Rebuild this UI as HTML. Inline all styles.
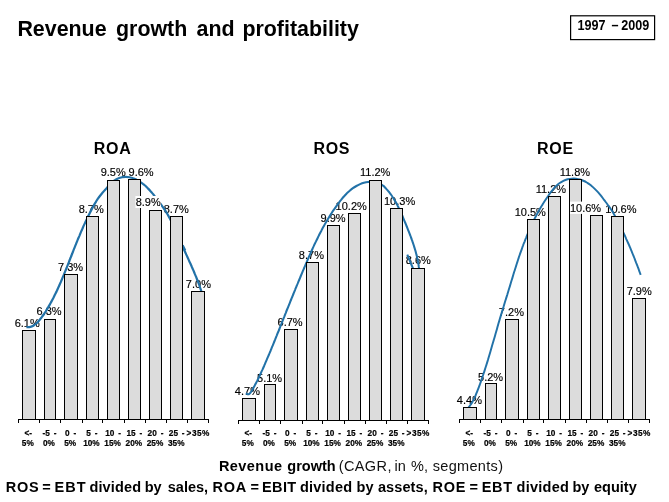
<!DOCTYPE html>
<html lang="en"><head><meta charset="utf-8"><title>Revenue growth and profitability</title>
<style>
html,body{margin:0;padding:0;background:#fff;}
body{width:669px;height:502px;overflow:hidden;}
svg{display:block;font-family:"Liberation Sans", Arial, Helvetica, sans-serif;will-change:transform;}
.t{font-weight:bold;font-size:21.4px;fill:#000;}
.h{font-weight:bold;font-size:16px;fill:#000;text-anchor:middle;letter-spacing:0.7px;}
.v{font-size:11px;fill:#000;text-anchor:middle;stroke:#000;stroke-width:0.15;}
.a{font-weight:bold;font-size:9px;fill:#000;text-anchor:middle;word-spacing:1.7px;stroke:#000;stroke-width:0.2;}
.d{font-weight:bold;font-size:14px;fill:#000;}
.x{font-size:14.5px;fill:#111;}
.xb{font-weight:bold;font-size:14.5px;fill:#000;}
.f{font-weight:bold;font-size:14.5px;fill:#000;}
.bar{fill:#dcdcdc;stroke:#000;stroke-width:1;}
.cv{fill:none;stroke:#2272a8;stroke-linecap:butt;stroke-linejoin:round;}
.ax{stroke:#000;stroke-width:1;fill:none;}
</style></head><body>
<svg width="669" height="502" viewBox="0 0 669 502">
<rect width="669" height="502" fill="#fff"/>
<text class="t" x="17.4" y="36">Revenue</text>
<text class="t" x="116.0" y="36">growth</text>
<text class="t" x="196.6" y="36">and</text>
<text class="t" x="242.4" y="36">profitability</text>
<rect x="570.6" y="15.8" width="84" height="23.8" fill="#fff" stroke="#000" stroke-width="1.2"/>
<text class="d" transform="translate(577.5 30.2) scale(0.9 1)">1997</text>
<text class="d" transform="translate(611.4 30.2) scale(0.9 1)">–</text>
<text class="d" transform="translate(621.2 30.2) scale(0.9 1)">2009</text>
<g>
<text class="h" x="112.6" y="153.8">ROA</text>
<text class="v" x="27.2" y="327">6.1%</text>
<text class="v" x="49.1" y="315">6.3%</text>
<text class="v" x="70.5" y="271">7.3%</text>
<text class="v" x="91.2" y="213">8.7%</text>
<text class="v" x="113.2" y="176">9.5%</text>
<text class="v" x="141.1" y="176">9.6%</text>
<text class="v" x="176.3" y="213">8.7%</text>
<text class="v" x="198.4" y="288">7.0%</text>
<path class="cv" stroke-width="2.20" d="M26.4 327.1C27.1 327.1 29.2 327.2 30.4 326.9C31.6 326.7 32.7 326.1 33.7 325.5C34.7 324.9 35.7 324.1 36.6 323.3C37.5 322.4 38.3 321.5 39.1 320.5C39.9 319.5 40.7 318.5 41.5 317.5C42.2 316.5 43.0 315.5 43.7 314.5C44.4 313.4 45.1 312.4 45.8 311.3C46.4 310.3 47.1 309.2 47.7 308.1C48.4 307.1 49.0 306.0 49.6 304.9C50.2 303.8 50.8 302.7 51.4 301.6C52.0 300.5 52.6 299.4 53.2 298.3C53.7 297.2 54.3 296.1 54.8 294.9C55.4 293.8 55.9 292.7 56.5 291.6C57.0 290.4 57.5 289.3 58.0 288.2C58.6 287.0 59.1 285.9 59.6 284.8C60.1 283.6 60.6 282.5 61.1 281.3C61.6 280.2 62.1 279.0 62.5 277.9C63.0 276.7 63.5 275.6 64.0 274.4C64.4 273.3 64.9 272.1 65.4 270.9C65.9 269.8 66.3 268.6 66.8 267.5C67.2 266.3 67.7 265.1 68.2 264.0C68.6 262.8 69.1 261.6 69.5 260.5C70.0 259.3 70.4 258.1 70.9 257.0C71.4 255.8 71.8 254.6 72.3 253.5C72.7 252.3 73.2 251.2 73.6 250.0C74.1 248.8 74.6 247.7 75.0 246.5C75.5 245.3 76.0 244.2 76.4 243.0C76.9 241.9 77.4 240.7 77.8 239.5C78.3 238.4 78.8 237.2 79.3 236.1C79.8 234.9 80.2 233.8 80.7 232.6C81.2 231.5 81.7 230.3 82.2 229.2C82.7 228.0 83.2 226.9 83.7 225.7C84.2 224.6 84.8 223.5 85.3 222.3C85.8 221.2 86.3 220.1 86.9 218.9C87.4 217.8 87.9 216.7 88.5 215.6C89.0 214.4 89.6 213.3 90.2 212.2C90.7 211.1 91.3 210.0 91.9 208.9C92.5 207.8 93.1 206.7 93.7 205.6C94.3 204.5 94.9 203.4 95.6 202.4C96.2 201.3 96.9 200.2 97.6 199.2C98.3 198.2 99.0 197.1 99.7 196.2C100.5 195.2 101.3 194.2 102.1 193.2C102.9 192.3 103.8 191.4 104.6 190.4C105.4 189.5 106.3 188.6 107.1 187.6C108.0 186.7 108.8 185.8 109.7 184.8C110.5 183.9 111.4 183.0 112.3 182.2C113.2 181.4 114.2 180.6 115.2 180.0C116.3 179.3 117.4 178.7 118.5 178.3C119.7 177.8 120.9 177.5 122.1 177.2C123.4 177.0 124.7 176.9 125.9 176.9C127.2 176.9 128.4 177.0 129.7 177.3C130.9 177.5 132.1 177.8 133.2 178.2C134.4 178.6 135.6 179.1 136.7 179.7C137.8 180.2 138.8 180.9 139.9 181.6C140.9 182.2 141.9 183.0 142.9 183.8C143.9 184.5 144.8 185.4 145.8 186.2C146.7 187.1 147.6 188.0 148.4 188.9C149.3 189.8 150.1 190.7 151.0 191.7C151.8 192.6 152.6 193.6 153.4 194.5C154.2 195.5 154.9 196.5 155.7 197.4C156.5 198.4 157.2 199.4 157.9 200.4C158.7 201.4 159.4 202.4 160.2 203.4C160.9 204.4 161.6 205.4 162.3 206.4C163.1 207.5 163.8 208.5 164.5 209.5C165.2 210.6 165.9 211.6 166.5 212.7C167.2 213.8 167.8 214.8 168.4 215.9C169.0 217.0 169.6 218.1 170.2 219.2C170.8 220.3 171.3 221.5 171.8 222.6C172.4 223.7 172.9 224.9 173.4 226.0C173.9 227.1 174.4 228.3 174.9 229.4C175.4 230.5 175.9 231.7 176.4 232.8C176.9 234.0 177.4 235.1 177.9 236.3C178.5 237.4 179.0 238.5 179.5 239.7C180.0 240.8 180.5 241.9 181.0 243.1C181.5 244.2 182.1 245.4 182.6 246.5C183.1 247.6 183.6 248.8 184.1 249.9C184.7 251.0 185.2 252.2 185.7 253.3C186.2 254.4 186.7 255.6 187.3 256.7C187.8 257.8 188.3 259.0 188.8 260.1C189.3 261.3 189.8 262.4 190.4 263.5C190.9 264.7 191.4 265.8 191.9 267.0C192.4 268.1 192.9 269.3 193.4 270.4C193.9 271.6 194.4 272.7 194.8 273.9C195.3 275.0 195.8 276.2 196.3 277.3C196.7 278.5 197.2 279.6 197.7 280.8C198.1 282.0 198.5 283.1 199.0 284.3C199.4 285.5 199.8 286.7 200.2 287.9C200.6 289.0 201.0 290.2 201.4 291.4C201.8 292.6 202.3 294.4 202.5 295.0"/>
<path class="cv" stroke-width="2.20" d="M182.6 245.2 L185.2 250.2"/>
<g shape-rendering="crispEdges">
<rect class="bar" x="22.5" y="330.5" width="13" height="89"/>
<rect class="bar" x="44.5" y="319.5" width="11" height="100"/>
<rect class="bar" x="64.5" y="274.5" width="13" height="145"/>
<rect class="bar" x="86.5" y="216.5" width="12" height="203"/>
<rect class="bar" x="107.5" y="180.5" width="12" height="239"/>
<rect class="bar" x="128.5" y="179.5" width="12" height="240"/>
<rect class="bar" x="149.5" y="210.5" width="12" height="209"/>
<rect class="bar" x="170.5" y="216.5" width="12" height="203"/>
<rect class="bar" x="191.5" y="291.5" width="13" height="128"/>
<path class="ax" d="M18 419.5 H209"/>
<path class="ax" d="M18.5 419 v4M39.5 419 v4M60.5 419 v4M82.5 419 v4M102.5 419 v4M124.5 419 v4M145.5 419 v4M166.5 419 v4M187.5 419 v4M208.5 419 v4"/>
</g>
<text class="a" transform="translate(28.3 436) scale(0.92 1)">&lt;-</text>
<text class="a" transform="translate(27.8 446) scale(0.92 1)">5%</text>
<text class="a" transform="translate(49.5 436) scale(0.92 1)">-5 -</text>
<text class="a" transform="translate(49.0 446) scale(0.92 1)">0%</text>
<text class="a" transform="translate(70.7 436) scale(0.92 1)">0 -</text>
<text class="a" transform="translate(70.2 446) scale(0.92 1)">5%</text>
<text class="a" transform="translate(91.9 436) scale(0.92 1)">5 -</text>
<text class="a" transform="translate(91.4 446) scale(0.92 1)">10%</text>
<text class="a" transform="translate(113.1 436) scale(0.92 1)">10 -</text>
<text class="a" transform="translate(112.6 446) scale(0.92 1)">15%</text>
<text class="a" transform="translate(134.3 436) scale(0.92 1)">15 -</text>
<text class="a" transform="translate(133.8 446) scale(0.92 1)">20%</text>
<text class="a" transform="translate(155.5 436) scale(0.92 1)">20 -</text>
<text class="a" transform="translate(155.0 446) scale(0.92 1)">25%</text>
<text class="a" transform="translate(176.7 436) scale(0.92 1)">25 -</text>
<text class="a" transform="translate(176.2 446) scale(0.92 1)">35%</text>
<text class="a" transform="translate(198.2 436) scale(0.92 1)" style="letter-spacing:0.5px">&gt;35%</text>
<rect x="135.4" y="196.0" width="25.6" height="12.0" fill="#fff"/>
<text class="v" x="148.2" y="206">8.9%</text>
</g>
<g>
<text class="h" x="331.8" y="153.8">ROS</text>
<text class="v" x="247.4" y="395">4.7%</text>
<text class="v" x="269.6" y="382">5.1%</text>
<text class="v" x="290.1" y="326">6.7%</text>
<text class="v" x="311.4" y="259">8.7%</text>
<text class="v" x="333.1" y="222">9.9%</text>
<text class="v" x="351.2" y="210">10.2%</text>
<text class="v" x="375.2" y="176">11.2%</text>
<text class="v" x="399.6" y="205">10.3%</text>
<text class="v" x="418.3" y="264">8.6%</text>
<path class="cv" stroke-width="2.05" d="M245.8 393.3C246.3 393.5 247.8 394.6 248.7 394.3C249.7 394.0 250.5 392.6 251.3 391.5C252.1 390.4 252.8 389.0 253.5 387.8C254.2 386.6 254.8 385.3 255.5 384.1C256.1 382.9 256.7 381.6 257.4 380.4C258.0 379.2 258.6 378.0 259.2 376.7C259.7 375.5 260.3 374.3 260.9 373.0C261.4 371.8 262.0 370.6 262.6 369.4C263.1 368.1 263.6 366.9 264.2 365.7C264.7 364.4 265.3 363.2 265.8 361.9C266.3 360.7 266.9 359.4 267.4 358.2C267.9 357.0 268.5 355.7 269.0 354.5C269.5 353.2 270.0 352.0 270.6 350.7C271.1 349.4 271.6 348.2 272.1 346.9C272.6 345.7 273.2 344.4 273.7 343.1C274.2 341.9 274.7 340.6 275.2 339.4C275.7 338.1 276.2 336.8 276.7 335.6C277.2 334.3 277.7 333.0 278.3 331.8C278.8 330.5 279.3 329.2 279.8 328.0C280.3 326.7 280.8 325.4 281.3 324.2C281.8 322.9 282.3 321.6 282.8 320.4C283.3 319.1 283.8 317.8 284.3 316.6C284.8 315.3 285.3 314.0 285.8 312.8C286.3 311.5 286.8 310.2 287.3 309.0C287.9 307.7 288.4 306.5 288.9 305.2C289.4 303.9 289.9 302.7 290.4 301.4C290.9 300.1 291.4 298.9 291.9 297.6C292.4 296.4 292.9 295.1 293.5 293.8C294.0 292.6 294.5 291.3 295.0 290.1C295.5 288.8 296.0 287.6 296.5 286.3C297.1 285.0 297.6 283.8 298.1 282.5C298.6 281.3 299.1 280.0 299.7 278.8C300.2 277.5 300.7 276.2 301.2 275.0C301.8 273.7 302.3 272.5 302.8 271.2C303.3 270.0 303.9 268.7 304.4 267.5C304.9 266.2 305.5 265.0 306.0 263.7C306.5 262.5 307.1 261.2 307.6 260.0C308.1 258.7 308.7 257.5 309.2 256.2C309.8 255.0 310.3 253.7 310.9 252.5C311.4 251.2 312.0 250.0 312.5 248.8C313.1 247.5 313.7 246.3 314.2 245.0C314.8 243.8 315.4 242.6 316.0 241.4C316.6 240.1 317.2 238.9 317.8 237.7C318.4 236.5 319.0 235.2 319.6 234.0C320.2 232.8 320.8 231.6 321.5 230.4C322.1 229.2 322.7 228.0 323.4 226.8C324.1 225.6 324.7 224.4 325.4 223.3C326.1 222.1 326.8 220.9 327.5 219.7C328.2 218.6 328.9 217.4 329.6 216.2C330.3 215.1 331.0 213.9 331.8 212.8C332.5 211.7 333.3 210.5 334.1 209.4C334.8 208.3 335.6 207.2 336.4 206.1C337.2 205.0 338.0 203.9 338.8 202.8C339.6 201.7 340.4 200.6 341.3 199.6C342.2 198.5 343.0 197.5 343.9 196.5C344.8 195.4 345.7 194.5 346.7 193.5C347.7 192.6 348.7 191.6 349.7 190.8C350.7 189.9 351.8 189.0 352.9 188.2C354.0 187.4 355.2 186.7 356.4 186.0C357.6 185.3 358.8 184.7 360.1 184.1C361.3 183.6 362.6 183.1 363.9 182.7C365.2 182.4 366.6 182.1 367.9 181.9C369.2 181.7 370.6 181.6 372.0 181.6C373.3 181.7 374.7 181.8 375.9 182.1C377.2 182.4 378.5 182.9 379.7 183.5C380.9 184.0 382.0 184.8 383.1 185.7C384.2 186.5 385.1 187.6 386.1 188.6C387.0 189.6 387.9 190.7 388.8 191.7C389.6 192.8 390.5 193.9 391.3 195.0C392.1 196.1 392.8 197.2 393.5 198.4C394.3 199.5 394.9 200.7 395.6 201.9C396.3 203.0 396.9 204.2 397.5 205.4C398.2 206.6 398.8 207.9 399.3 209.1C399.9 210.3 400.5 211.5 401.0 212.8C401.6 214.0 402.1 215.3 402.7 216.5C403.2 217.8 403.7 219.1 404.2 220.3C404.7 221.6 405.3 222.9 405.8 224.1C406.3 225.4 406.8 226.6 407.3 227.9C407.8 229.2 408.3 230.4 408.8 231.7C409.3 233.0 409.8 234.3 410.3 235.5C410.8 236.8 411.2 238.1 411.7 239.4C412.2 240.6 412.6 241.9 413.0 243.2C413.5 244.5 413.9 245.8 414.3 247.1C414.7 248.4 415.1 249.7 415.5 251.0C415.8 252.3 416.2 253.6 416.5 254.9C416.9 256.2 417.2 257.5 417.5 258.9C417.7 260.2 418.0 261.5 418.2 262.9C418.5 264.2 418.7 265.6 418.8 266.9C419.0 268.3 419.2 270.4 419.3 271.0"/>
<path class="cv" stroke-width="2.05" d="M407.3 254.6 L413.4 269.5"/>
<g shape-rendering="crispEdges">
<rect class="bar" x="242.5" y="398.5" width="13" height="22"/>
<rect class="bar" x="264.5" y="384.5" width="11" height="36"/>
<rect class="bar" x="284.5" y="329.5" width="13" height="91"/>
<rect class="bar" x="306.5" y="262.5" width="12" height="158"/>
<rect class="bar" x="327.5" y="225.5" width="12" height="195"/>
<rect class="bar" x="348.5" y="213.5" width="12" height="207"/>
<rect class="bar" x="369.5" y="180.5" width="12" height="240"/>
<rect class="bar" x="390.5" y="208.5" width="12" height="212"/>
<rect class="bar" x="411.5" y="268.5" width="13" height="152"/>
<path class="ax" d="M238 420.5 H429"/>
<path class="ax" d="M238.5 420 v4M259.5 420 v4M280.5 420 v4M302.5 420 v4M322.5 420 v4M344.5 420 v4M365.5 420 v4M386.5 420 v4M407.5 420 v4M428.5 420 v4"/>
</g>
<text class="a" transform="translate(248.3 436) scale(0.92 1)">&lt;-</text>
<text class="a" transform="translate(247.8 446) scale(0.92 1)">5%</text>
<text class="a" transform="translate(269.5 436) scale(0.92 1)">-5 -</text>
<text class="a" transform="translate(269.0 446) scale(0.92 1)">0%</text>
<text class="a" transform="translate(290.7 436) scale(0.92 1)">0 -</text>
<text class="a" transform="translate(290.2 446) scale(0.92 1)">5%</text>
<text class="a" transform="translate(311.9 436) scale(0.92 1)">5 -</text>
<text class="a" transform="translate(311.4 446) scale(0.92 1)">10%</text>
<text class="a" transform="translate(333.1 436) scale(0.92 1)">10 -</text>
<text class="a" transform="translate(332.6 446) scale(0.92 1)">15%</text>
<text class="a" transform="translate(354.3 436) scale(0.92 1)">15 -</text>
<text class="a" transform="translate(353.8 446) scale(0.92 1)">20%</text>
<text class="a" transform="translate(375.5 436) scale(0.92 1)">20 -</text>
<text class="a" transform="translate(375.0 446) scale(0.92 1)">25%</text>
<text class="a" transform="translate(396.7 436) scale(0.92 1)">25 -</text>
<text class="a" transform="translate(396.2 446) scale(0.92 1)">35%</text>
<text class="a" transform="translate(418.2 436) scale(0.92 1)" style="letter-spacing:0.5px">&gt;35%</text>
</g>
<g>
<text class="h" x="555.5" y="153.8">ROE</text>
<text class="v" x="469.4" y="404">4.4%</text>
<text class="v" x="490.6" y="381">5.2%</text>
<text class="v" x="511.4" y="316">7.2%</text>
<text class="v" x="530.3" y="216">10.5%</text>
<text class="v" x="550.9" y="193">11.2%</text>
<text class="v" x="574.9" y="176">11.8%</text>
<text class="v" x="620.9" y="213">10.6%</text>
<text class="v" x="639.2" y="295">7.9%</text>
<path class="cv" stroke-width="1.95" d="M468.6 407.6C469.0 407.0 470.4 405.3 471.1 404.1C471.9 402.9 472.6 401.7 473.2 400.4C473.9 399.2 474.5 397.9 475.1 396.6C475.6 395.3 476.2 393.9 476.7 392.6C477.2 391.3 477.8 389.9 478.3 388.6C478.8 387.3 479.3 385.9 479.8 384.6C480.3 383.2 480.8 381.9 481.2 380.5C481.7 379.2 482.2 377.8 482.6 376.5C483.1 375.1 483.5 373.8 484.0 372.4C484.4 371.0 484.9 369.7 485.3 368.3C485.7 366.9 486.2 365.6 486.6 364.2C487.0 362.8 487.4 361.5 487.9 360.1C488.3 358.7 488.7 357.4 489.1 356.0C489.5 354.6 489.9 353.3 490.3 351.9C490.7 350.5 491.1 349.1 491.5 347.8C491.9 346.4 492.3 345.0 492.7 343.6C493.1 342.3 493.5 340.9 493.9 339.5C494.3 338.2 494.7 336.8 495.1 335.4C495.5 334.0 495.9 332.7 496.3 331.3C496.7 329.9 497.1 328.5 497.4 327.2C497.8 325.8 498.2 324.4 498.6 323.0C499.0 321.7 499.4 320.3 499.8 318.9C500.2 317.5 500.7 316.2 501.1 314.8C501.5 313.4 501.9 312.1 502.3 310.7C502.7 309.3 503.1 307.9 503.6 306.6C504.0 305.2 504.4 303.8 504.8 302.5C505.2 301.1 505.7 299.7 506.1 298.4C506.5 297.0 506.9 295.6 507.4 294.3C507.8 292.9 508.2 291.5 508.6 290.2C509.0 288.8 509.5 287.4 509.9 286.1C510.3 284.7 510.7 283.3 511.1 282.0C511.5 280.6 512.0 279.2 512.4 277.9C512.8 276.5 513.2 275.1 513.6 273.8C514.0 272.4 514.5 271.0 514.9 269.7C515.3 268.3 515.8 266.9 516.2 265.6C516.6 264.2 517.1 262.9 517.5 261.5C517.9 260.1 518.4 258.8 518.8 257.4C519.3 256.1 519.8 254.7 520.2 253.4C520.7 252.0 521.2 250.7 521.7 249.3C522.2 248.0 522.6 246.6 523.1 245.3C523.6 243.9 524.2 242.6 524.7 241.3C525.2 239.9 525.7 238.6 526.3 237.3C526.8 235.9 527.3 234.6 527.9 233.3C528.5 232.0 529.0 230.7 529.6 229.4C530.2 228.0 530.8 226.7 531.4 225.4C532.0 224.1 532.6 222.9 533.2 221.6C533.8 220.3 534.5 219.0 535.1 217.7C535.8 216.5 536.4 215.2 537.1 213.9C537.8 212.7 538.5 211.4 539.2 210.2C539.9 209.0 540.6 207.7 541.3 206.5C542.1 205.3 542.8 204.0 543.6 202.8C544.3 201.6 545.1 200.4 545.9 199.2C546.7 198.0 547.5 196.8 548.3 195.7C549.1 194.5 549.9 193.3 550.8 192.2C551.7 191.0 552.6 189.9 553.5 188.8C554.4 187.7 555.4 186.6 556.4 185.7C557.5 184.7 558.6 183.8 559.7 183.0C560.9 182.2 562.2 181.4 563.4 180.8C564.7 180.2 566.1 179.7 567.5 179.3C568.9 179.0 570.3 178.7 571.7 178.6C573.1 178.5 574.5 178.5 575.9 178.6C577.3 178.8 578.7 179.1 580.1 179.5C581.4 179.9 582.7 180.4 584.0 181.0C585.3 181.6 586.5 182.4 587.7 183.1C589.0 183.9 590.1 184.8 591.3 185.7C592.4 186.6 593.5 187.6 594.5 188.6C595.5 189.6 596.5 190.6 597.5 191.7C598.4 192.7 599.4 193.8 600.3 194.9C601.2 196.0 602.1 197.2 602.9 198.3C603.8 199.5 604.7 200.6 605.5 201.7C606.4 202.9 607.3 204.0 608.1 205.2C608.9 206.3 609.8 207.5 610.6 208.7C611.4 209.8 612.2 211.0 612.9 212.2C613.6 213.5 614.4 214.7 615.0 215.9C615.7 217.2 616.4 218.4 617.1 219.7C617.7 221.0 618.4 222.3 619.0 223.5C619.6 224.8 620.3 226.1 620.9 227.4C621.5 228.7 622.1 230.0 622.7 231.3C623.4 232.6 624.0 233.9 624.6 235.2C625.2 236.5 625.8 237.8 626.3 239.1C626.9 240.4 627.5 241.7 628.1 243.0C628.7 244.3 629.2 245.6 629.8 246.9C630.4 248.2 630.9 249.6 631.5 250.9C632.0 252.2 632.6 253.5 633.1 254.9C633.6 256.2 634.2 257.5 634.7 258.8C635.2 260.2 635.7 261.5 636.2 262.8C636.8 264.2 637.3 265.5 637.8 266.9C638.3 268.2 638.8 269.5 639.2 270.9C639.7 272.2 640.4 274.2 640.7 274.9"/>
<g shape-rendering="crispEdges">
<rect class="bar" x="463.5" y="407.5" width="13" height="12"/>
<rect class="bar" x="485.5" y="383.5" width="11" height="36"/>
<rect class="bar" x="505.5" y="319.5" width="13" height="100"/>
<rect class="bar" x="527.5" y="219.5" width="12" height="200"/>
<rect class="bar" x="548.5" y="196.5" width="12" height="223"/>
<rect class="bar" x="569.5" y="179.5" width="12" height="240"/>
<rect class="bar" x="590.5" y="215.5" width="12" height="204"/>
<rect class="bar" x="611.5" y="216.5" width="12" height="203"/>
<rect class="bar" x="632.5" y="298.5" width="13" height="121"/>
<path class="ax" d="M459 419.5 H650"/>
<path class="ax" d="M459.5 419 v4M480.5 419 v4M501.5 419 v4M523.5 419 v4M543.5 419 v4M565.5 419 v4M586.5 419 v4M607.5 419 v4M628.5 419 v4M649.5 419 v4"/>
</g>
<text class="a" transform="translate(469.3 436) scale(0.92 1)">&lt;-</text>
<text class="a" transform="translate(468.8 446) scale(0.92 1)">5%</text>
<text class="a" transform="translate(490.5 436) scale(0.92 1)">-5 -</text>
<text class="a" transform="translate(490.0 446) scale(0.92 1)">0%</text>
<text class="a" transform="translate(511.7 436) scale(0.92 1)">0 -</text>
<text class="a" transform="translate(511.2 446) scale(0.92 1)">5%</text>
<text class="a" transform="translate(532.9 436) scale(0.92 1)">5 -</text>
<text class="a" transform="translate(532.4 446) scale(0.92 1)">10%</text>
<text class="a" transform="translate(554.1 436) scale(0.92 1)">10 -</text>
<text class="a" transform="translate(553.6 446) scale(0.92 1)">15%</text>
<text class="a" transform="translate(575.3 436) scale(0.92 1)">15 -</text>
<text class="a" transform="translate(574.8 446) scale(0.92 1)">20%</text>
<text class="a" transform="translate(596.5 436) scale(0.92 1)">20 -</text>
<text class="a" transform="translate(596.0 446) scale(0.92 1)">25%</text>
<text class="a" transform="translate(617.7 436) scale(0.92 1)">25 -</text>
<text class="a" transform="translate(617.2 446) scale(0.92 1)">35%</text>
<text class="a" transform="translate(639.2 436) scale(0.92 1)" style="letter-spacing:0.5px">&gt;35%</text>
<rect x="570.0" y="201.6" width="31.5" height="12.3" fill="#fff"/>
<text class="v" x="585.5" y="212">10.6%</text>
</g>
<text class="xb" x="218.9" y="471" style="letter-spacing:0.45px">Revenue</text>
<text class="xb" x="287.3" y="471" style="letter-spacing:0.00px">growth</text>
<text class="x" x="338.7" y="471" style="letter-spacing:0.40px">(CAGR,</text>
<text class="x" x="394.6" y="471" style="letter-spacing:0.00px">in</text>
<text class="x" x="411.0" y="471" style="letter-spacing:0.00px">%,</text>
<text class="x" x="432.7" y="471" style="letter-spacing:0.33px">segments)</text>
<text class="f" x="5.8" y="492" style="letter-spacing:0.70px">ROS</text>
<text class="f" x="42.3" y="492" style="letter-spacing:0.00px">=</text>
<text class="f" x="54.6" y="492" style="letter-spacing:1.00px">EBT</text>
<text class="f" x="89.4" y="492" style="letter-spacing:0.15px">divided</text>
<text class="f" x="144.7" y="492" style="letter-spacing:0.00px">by</text>
<text class="f" x="167.8" y="492" style="letter-spacing:0.00px">sales,</text>
<text class="f" x="212.5" y="492" style="letter-spacing:0.70px">ROA</text>
<text class="f" x="250.5" y="492" style="letter-spacing:0.00px">=</text>
<text class="f" x="262.0" y="492" style="letter-spacing:0.40px">EBIT</text>
<text class="f" x="299.9" y="492" style="letter-spacing:0.25px">divided</text>
<text class="f" x="356.6" y="492" style="letter-spacing:0.00px">by</text>
<text class="f" x="377.9" y="492" style="letter-spacing:0.10px">assets,</text>
<text class="f" x="432.6" y="492" style="letter-spacing:0.70px">ROE</text>
<text class="f" x="469.6" y="492" style="letter-spacing:0.00px">=</text>
<text class="f" x="481.8" y="492" style="letter-spacing:0.60px">EBT</text>
<text class="f" x="516.6" y="492" style="letter-spacing:0.25px">divided</text>
<text class="f" x="572.5" y="492" style="letter-spacing:0.00px">by</text>
<text class="f" x="594.0" y="492" style="letter-spacing:0.00px">equity</text>
</svg>
</body></html>
